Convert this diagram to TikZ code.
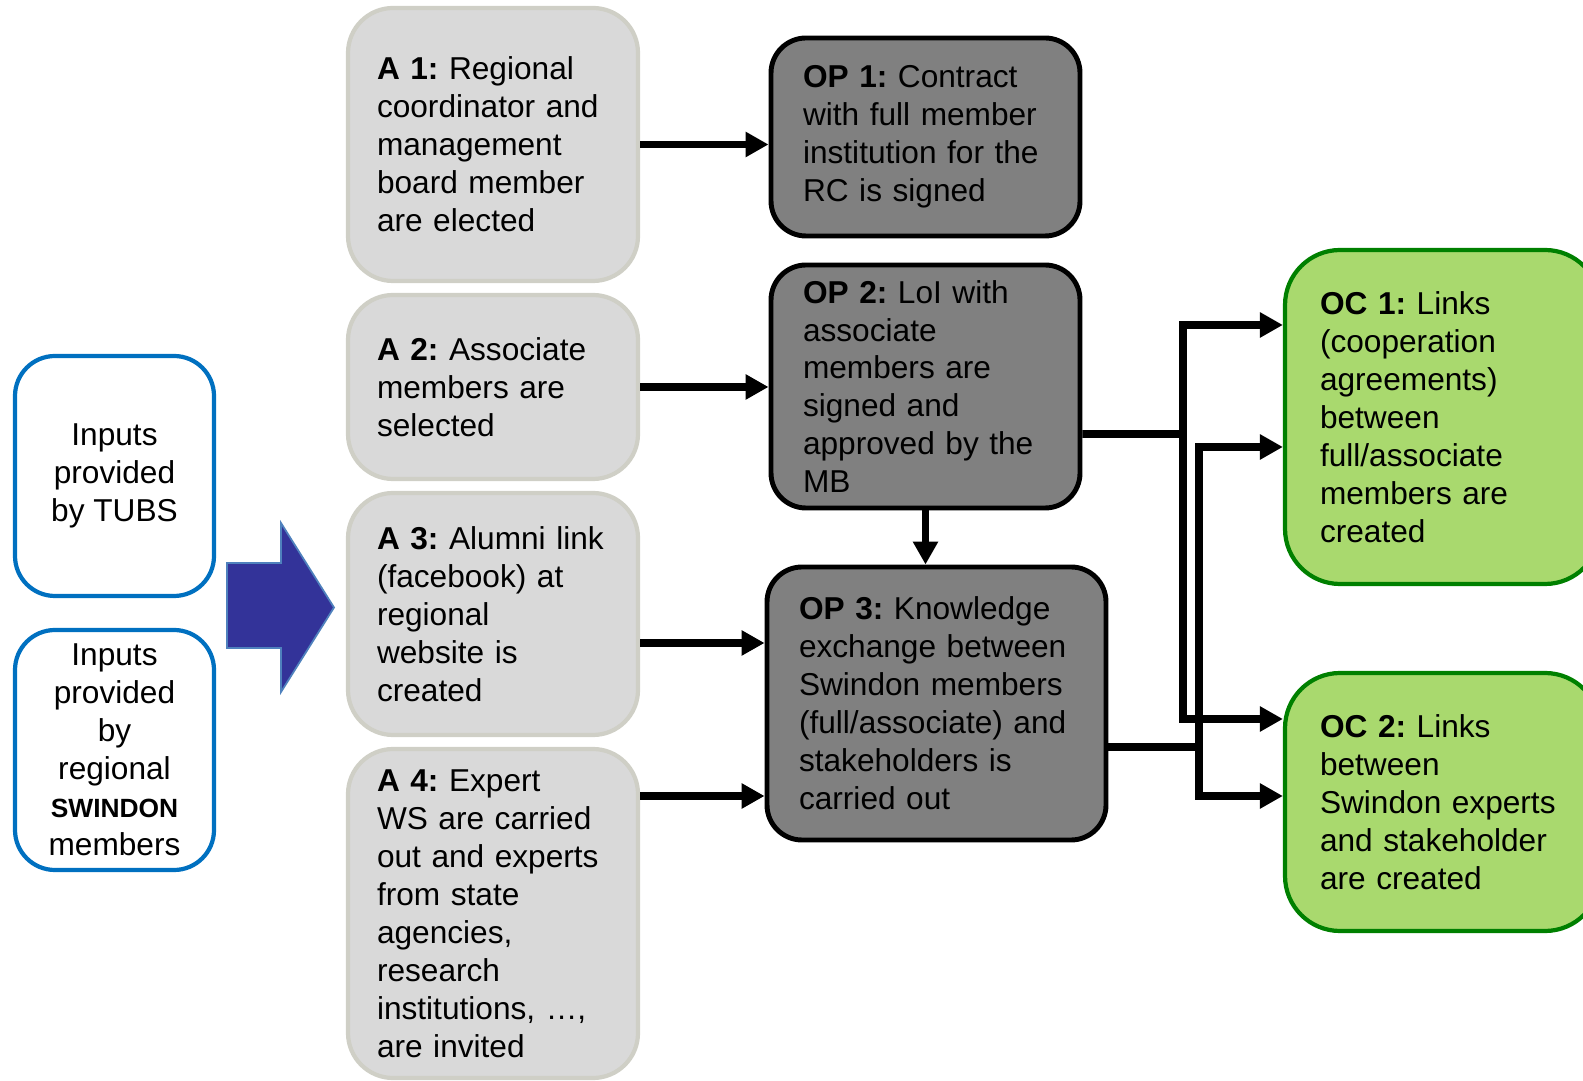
\documentclass[tikz,border=0pt]{standalone}
\usepackage{fontspec}
\setmainfont{Liberation Sans}
\usetikzlibrary{arrows.meta}
\definecolor{inblue}{HTML}{0070C0}
\definecolor{actfill}{HTML}{D9D9D9}
\definecolor{actline}{HTML}{CFCFC6}
\definecolor{opfill}{HTML}{808080}
\definecolor{ocfill}{HTML}{A9D96E}
\definecolor{ocline}{HTML}{008000}
\definecolor{bigblue}{HTML}{333399}
\definecolor{bigline}{HTML}{4F81BD}
\frenchspacing
\begin{document}
\begin{tikzpicture}[>={Triangle[length=0.23cm,width=0.24cm]},
  font=\fontsize{9}{10.8}\selectfont,
  inbox/.style={draw=inblue,line width=1.2pt,rounded corners=0.4cm,align=center,
    minimum width=1.99cm,minimum height=2.4cm},
  act/.style={draw=actline,fill=actfill,line width=1.2pt,rounded corners=0.45cm,
    align=left,inner xsep=0.29cm,text width=2.32cm,minimum width=2.9cm},
  outp/.style={draw,fill=opfill,line width=1.4pt,rounded corners=0.35cm,
    align=left,inner xsep=0.32cm},
  outc/.style={draw=ocline,fill=ocfill,line width=1.2pt,rounded corners=0.55cm,
    align=left,inner xsep=0.35cm,text width=2.45cm},
  flow/.style={->,line width=2.2pt},
  link/.style={line width=2.2pt}]
\useasboundingbox (0,0) rectangle (15.83,-10.81);

\node[inbox] (in1) at (1.145,-4.76) {Inputs\\provided\\by TUBS};
\node[inbox] (in2) at (1.145,-7.50) {Inputs\\provided\\by\\regional\\
  {\fontsize{7.5}{9}\selectfont\bfseries SWINDON}\\members};
\draw[fill=bigblue,draw=bigline,line width=0.5pt]
  (2.27,-5.63) -- (2.81,-5.63) -- (2.81,-5.23) -- (3.34,-6.075)
  -- (2.81,-6.92) -- (2.81,-6.48) -- (2.27,-6.48) -- cycle;

\node[act,minimum height=2.73cm] (a1) at (4.93,-1.445)
  {\textbf{A 1:} Regional\\coordinator and\\management\\board member\\are elected};
\node[act,minimum height=1.84cm] (a2) at (4.93,-3.87)
  {\textbf{A 2:} Associate\\members are\\selected};
\node[act,minimum height=2.42cm] (a3) at (4.93,-6.14)
  {\textbf{A 3:} Alumni link\\(facebook) at\\regional\\website is\\created};
\node[act,minimum height=3.29cm] (a4) at (4.93,-9.135)
  {\textbf{A 4:} Expert\\WS are carried\\out and experts\\from state\\agencies,\\research\\institutions, …,\\are invited};

\node[outp,text width=2.45cm,minimum height=1.98cm] (op1) at (9.255,-1.37)
  {\textbf{OP 1:} Contract\\with full member\\institution for the\\RC is signed};
\node[outp,text width=2.45cm,minimum height=2.43cm] (op2) at (9.255,-3.865)
  {\textbf{OP 2:} LoI with\\associate\\members are\\signed and\\approved by the\\MB};
\node[outp,text width=2.75cm,minimum height=2.73cm] (op3) at (9.365,-7.035)
  {\textbf{OP 3:} Knowledge\\exchange between\\Swindon members\\(full/associate) and\\stakeholders is\\carried out};

\node[outc,minimum height=3.34cm] (oc1) at (14.425,-4.17)
  {\textbf{OC 1:} Links\\(cooperation\\agreements)\\between\\full/associate\\members are\\created};
\node[outc,minimum height=2.58cm] (oc2) at (14.425,-8.02)
  {\textbf{OC 2:} Links\\between\\Swindon experts\\and stakeholder\\are created};

\coordinate (j1) at (11.83,-4.34);
\coordinate (j2) at (11.99,-7.47);

\draw[flow] (a1.east) -- (a1.east -| op1.west);
\draw[flow] (a2.east) -- (a2.east -| op2.west);
\draw[flow] ([yshift=-0.29cm]a3.east) -- ([yshift=-0.29cm]a3.east -| op3.west);
\draw[flow] ([yshift=1.175cm]a4.east) -- ([yshift=1.175cm]a4.east -| op3.west);
\draw[flow] (op2.south) -- (op2.south |- op3.north);
\draw[link] ([yshift=-0.475cm]op2.east) -- (j1);
\draw[flow] (j1) |- ([yshift=0.92cm]oc1.west);
\draw[flow] (j1) |- ([yshift=0.83cm]oc2.west);
\draw[link] ([yshift=-0.435cm]op3.east) -- (j2);
\draw[flow] (j2) |- ([yshift=-0.30cm]oc1.west);
\draw[flow] (j2) |- ([yshift=0.06cm]oc2.west);
\end{tikzpicture}
\end{document}
